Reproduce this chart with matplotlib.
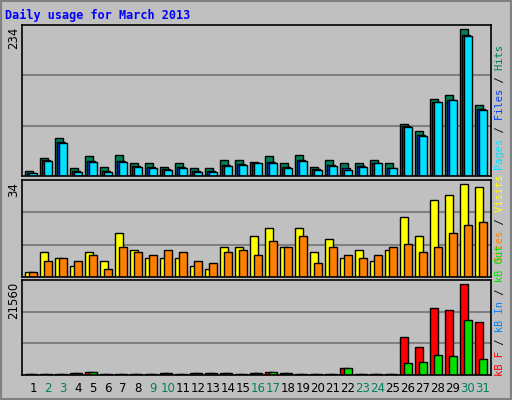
import matplotlib
matplotlib.use("Agg")
import matplotlib.pyplot as plt
import numpy as np
from matplotlib.patches import Rectangle

days = np.arange(1, 32)
weekend = [2, 3, 9, 10, 16, 17, 23, 24, 30, 31]

hits = [8, 29, 61, 13, 32, 15, 34, 20, 21, 15, 21, 12, 12, 26, 26, 23,
        31, 20, 34, 15, 26, 20, 20, 26, 21, 83, 72, 123, 128, 234, 113]
files = [5, 25, 54, 8, 24, 8, 24, 16, 14, 11, 14, 8, 8, 18, 19, 21,
         22, 14, 25, 11, 17, 12, 16, 21, 13, 80, 65, 118, 121, 224, 107]
pages = [4, 24, 53, 7, 23, 7, 23, 15, 13, 10, 13, 7, 7, 16, 18, 20,
         21, 13, 24, 10, 16, 10, 15, 20, 12, 78, 64, 117, 120, 222, 105]

visits = [2, 9, 7, 4, 9, 6, 16, 10, 7, 7, 7, 4, 3, 11, 11, 15,
          18, 11, 18, 9, 14, 7, 10, 6, 10, 22, 15, 28, 30, 34, 33]
sites = [2, 6, 7, 6, 8, 3, 11, 9, 8, 10, 9, 6, 5, 9, 10, 8,
         13, 11, 15, 5, 11, 8, 7, 8, 11, 12, 9, 11, 16, 19, 20]

kb_f = [120, 120, 120, 400, 790, 120, 120, 120, 120, 400, 120, 400, 400, 400, 120, 400,
        630, 400, 120, 120, 120, 1590, 120, 120, 120, 8960, 6580, 15860, 15380, 21560, 12530]
kb_out = [120, 120, 120, 400, 790, 120, 120, 120, 120, 400, 120, 400, 400, 400, 120, 400,
          630, 400, 120, 120, 120, 1590, 120, 120, 120, 2770, 3010, 4680, 4440, 13000, 3730]

W, H = 512, 400
BG = "#C0C0C0"
fig = plt.figure(figsize=(W / 100, H / 100), dpi=100)
fig.patch.set_facecolor(BG)
# outer 3D-ish border
fig.add_artist(Rectangle((0, 0), 1, 1, transform=fig.transFigure, fill=False,
                         edgecolor="#808080", linewidth=3))


def make_ax(top, bottom, ymax):
    ax = fig.add_axes([22 / W, 1 - bottom / H, (491 - 22) / W, (bottom - top) / H])
    ax.set_facecolor(BG)
    ax.set_xlim(1 - 11 / 15, 31 + 8 / 15)
    ax.set_ylim(0, ymax)
    for g in (ymax / 3, 2 * ymax / 3):
        ax.axhline(g, color="#808080", lw=1.5, zorder=0)
    ax.set_xticks([])
    ax.set_yticks([])
    for s in ax.spines.values():
        s.set_color("black")
        s.set_linewidth(1.2)
    return ax


bw = 8 / 15
kw = dict(align="edge", edgecolor="black", linewidth=1)

ax1 = make_ax(25, 176, 240)
ax1.bar(days - 8 / 15, hits, bw, color="#00805C", **kw)
ax1.bar(days - 5.7 / 15, files, bw, color="#0040FF", **kw)
ax1.bar(days - 4 / 15, pages, bw, color="#00E0FF", **kw)

ax2 = make_ax(180, 277, 35.5)
ax2.bar(days - 8 / 15, visits, bw, color="#FFFF00", **kw)
ax2.bar(days - 4 / 15, sites, bw, color="#FF8000", **kw)

ax3 = make_ax(280, 375, 22500)
ax3.bar(days - 8 / 15, kb_f, bw, color="#FF0000", **kw)
ax3.bar(days - 4 / 15, kb_out, bw, color="#00E000", **kw)

fig.text(5 / W, 1 - 15 / H, "Daily usage for March 2013", family="DejaVu Sans Mono",
         weight="bold", color="#0000FF", fontsize=8.5, va="center")

for label, y in (("234", 27), ("34", 182), ("21560", 282)):
    fig.text(14 / W, 1 - y / H, label, rotation=90, ha="center", va="top", fontsize=8.5)

for d in days:
    fig.text((33 + (d - 1) * 15) / W, 1 - 389 / H, str(d), ha="center", va="center",
             fontsize=8.5, color="#00805C" if d in weekend else "black")


def side_label(pieces, y_bottom):
    # one monospace string per colour, other characters blanked, reading bottom-up
    full = "".join(t for t, _ in pieces)
    pos = 0
    for txt, col in pieces:
        s = " " * pos + txt + " " * (len(full) - pos - len(txt))
        fig.text(500 / W, 1 - y_bottom / H, s, rotation=90, ha="center", va="bottom",
                 family="DejaVu Sans Mono", fontsize=7.5, color=col)
        pos += len(txt)


side_label([("Pages", "#00E0FF"), (" / ", "black"), ("Files", "#0040FF"),
            (" / ", "black"), ("Hits", "#00805C")], 170)
side_label([("Sites", "#FF8000"), (" / ", "black"), ("Visits", "#FFFF00")], 262)
side_label([("kB F", "#FF0000"), (" / ", "black"), ("kB In", "#0080FF"),
            (" / ", "black"), ("kB Out", "#00E000")], 376)

fig.savefig("out.png", dpi=100, facecolor=BG)
